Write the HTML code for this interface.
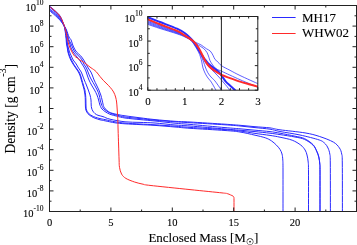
<!DOCTYPE html>
<html><head><meta charset="utf-8"><style>
html,body{margin:0;padding:0;background:#fff;width:357px;height:245px;overflow:hidden}
svg{display:block;font-family:"Liberation Serif",serif;will-change:transform}
text{fill:#000;stroke:#000;stroke-width:0.1px}
</style></head><body>
<svg width="357" height="245" viewBox="0 0 357 245" xmlns="http://www.w3.org/2000/svg">
<defs>
<clipPath id="cm"><rect x="49.5" y="5.5" width="307" height="206"/></clipPath>
<clipPath id="ci"><rect x="147.8" y="16.5" width="110" height="73.7"/></clipPath>
</defs>
<rect width="357" height="245" fill="#fff"/>

<g clip-path="url(#cm)">
<path d="M49.50 9.60 C50.47 10.43 53.52 12.93 55.30 14.60 C57.08 16.27 58.75 17.75 60.20 19.60 C61.65 21.45 63.20 23.97 64.00 25.70 C64.80 27.43 64.68 28.12 65.00 30.00 C65.32 31.88 65.70 35.33 65.90 37.00 C66.10 38.67 66.10 38.83 66.20 40.00 C66.30 41.17 66.32 42.67 66.50 44.00 C66.68 45.33 67.07 46.67 67.30 48.00 C67.53 49.33 67.60 50.67 67.90 52.00 C68.20 53.33 68.63 54.67 69.10 56.00 C69.57 57.33 70.05 58.67 70.70 60.00 C71.35 61.33 72.17 62.67 73.00 64.00 C73.83 65.33 74.80 66.67 75.70 68.00 C76.60 69.33 77.65 70.67 78.40 72.00 C79.15 73.33 79.72 74.67 80.20 76.00 C80.68 77.33 80.87 78.50 81.30 80.00 C81.73 81.50 82.32 83.33 82.80 85.00 C83.28 86.67 83.83 88.33 84.20 90.00 C84.57 91.67 84.82 93.33 85.00 95.00 C85.18 96.67 85.23 98.17 85.30 100.00 C85.37 101.83 85.30 104.33 85.40 106.00 C85.50 107.67 85.47 108.70 85.90 110.00 C86.33 111.30 87.07 112.72 88.00 113.80 C88.93 114.88 90.33 115.77 91.50 116.50 C92.67 117.23 93.58 117.65 95.00 118.20 C96.42 118.75 98.33 119.37 100.00 119.80 C101.67 120.23 102.50 120.30 105.00 120.80 C107.50 121.30 111.67 122.30 115.00 122.80 C118.33 123.30 120.83 123.50 125.00 123.80 C129.17 124.10 135.00 124.33 140.00 124.60 C145.00 124.87 149.17 125.00 155.00 125.40 C160.83 125.80 169.17 126.52 175.00 127.00 C180.83 127.48 181.67 127.72 190.00 128.30 C198.33 128.88 216.67 129.88 225.00 130.50 C233.33 131.12 235.00 131.22 240.00 132.00 C245.00 132.78 250.78 134.23 255.00 135.20 C259.22 136.17 262.55 136.85 265.30 137.80 C268.05 138.75 269.65 139.68 271.50 140.90 C273.35 142.12 274.98 143.68 276.40 145.10 C277.82 146.52 279.07 147.92 280.00 149.40 C280.93 150.88 281.53 152.23 282.00 154.00 C282.47 155.77 282.63 157.33 282.80 160.00 C282.97 162.67 282.97 161.33 283.00 170.00 C283.03 178.67 283.00 205.00 283.00 212.00" fill="none" stroke="#2a2aff" stroke-width="1.00" stroke-linejoin="round" stroke-linecap="round"/>
<path d="M49.50 10.60 C50.47 11.43 53.52 13.97 55.30 15.60 C57.08 17.23 58.75 18.70 60.20 20.40 C61.65 22.10 63.17 24.20 64.00 25.80 C64.83 27.40 64.83 28.13 65.20 30.00 C65.57 31.87 65.97 35.33 66.20 37.00 C66.43 38.67 66.48 38.83 66.60 40.00 C66.72 41.17 66.70 42.67 66.90 44.00 C67.10 45.33 67.55 46.67 67.80 48.00 C68.05 49.33 68.08 50.67 68.40 52.00 C68.72 53.33 69.18 54.67 69.70 56.00 C70.22 57.33 70.85 58.67 71.50 60.00 C72.15 61.33 72.80 62.67 73.60 64.00 C74.40 65.33 75.38 66.67 76.30 68.00 C77.22 69.33 78.35 70.67 79.10 72.00 C79.85 73.33 80.33 74.67 80.80 76.00 C81.27 77.33 81.47 78.50 81.90 80.00 C82.33 81.50 82.90 83.33 83.40 85.00 C83.90 86.67 84.53 88.33 84.90 90.00 C85.27 91.67 85.43 93.33 85.60 95.00 C85.77 96.67 85.83 98.17 85.90 100.00 C85.97 101.83 85.90 104.33 86.00 106.00 C86.10 107.67 86.07 108.77 86.50 110.00 C86.93 111.23 87.68 112.43 88.60 113.40 C89.52 114.37 90.85 115.15 92.00 115.80 C93.15 116.45 94.17 116.83 95.50 117.30 C96.83 117.77 98.42 118.22 100.00 118.60 C101.58 118.98 102.50 119.07 105.00 119.60 C107.50 120.13 111.67 121.22 115.00 121.80 C118.33 122.38 120.83 122.73 125.00 123.10 C129.17 123.47 135.00 123.72 140.00 124.00 C145.00 124.28 149.17 124.43 155.00 124.80 C160.83 125.17 169.17 125.77 175.00 126.20 C180.83 126.63 181.67 126.83 190.00 127.40 C198.33 127.97 216.67 129.00 225.00 129.60 C233.33 130.20 235.00 130.37 240.00 131.00 C245.00 131.63 250.00 132.67 255.00 133.40 C260.00 134.13 265.83 134.77 270.00 135.40 C274.17 136.03 276.30 136.40 280.00 137.20 C283.70 138.00 288.73 138.88 292.20 140.20 C295.67 141.52 298.65 143.47 300.80 145.10 C302.95 146.73 304.07 148.35 305.10 150.00 C306.13 151.65 306.48 153.00 307.00 155.00 C307.52 157.00 307.95 159.17 308.20 162.00 C308.45 164.83 308.45 163.67 308.50 172.00 C308.55 180.33 308.50 205.33 308.50 212.00" fill="none" stroke="#2a2aff" stroke-width="1.00" stroke-linejoin="round" stroke-linecap="round"/>
<path d="M49.50 8.60 C50.47 9.43 53.52 11.93 55.30 13.60 C57.08 15.27 58.75 16.62 60.20 18.60 C61.65 20.58 63.13 23.60 64.00 25.50 C64.87 27.40 64.95 28.08 65.40 30.00 C65.85 31.92 66.42 35.33 66.70 37.00 C66.98 38.67 66.97 38.83 67.10 40.00 C67.23 41.17 67.28 42.67 67.50 44.00 C67.72 45.33 68.07 46.67 68.40 48.00 C68.73 49.33 69.02 50.67 69.50 52.00 C69.98 53.33 70.68 54.67 71.30 56.00 C71.92 57.33 72.38 58.67 73.20 60.00 C74.02 61.33 75.32 62.67 76.20 64.00 C77.08 65.33 77.67 66.67 78.50 68.00 C79.33 69.33 80.48 70.67 81.20 72.00 C81.92 73.33 82.28 74.67 82.80 76.00 C83.32 77.33 83.70 78.50 84.30 80.00 C84.90 81.50 85.73 83.33 86.40 85.00 C87.07 86.67 87.70 88.33 88.30 90.00 C88.90 91.67 89.55 93.33 90.00 95.00 C90.45 96.67 90.80 98.33 91.00 100.00 C91.20 101.67 91.10 103.67 91.20 105.00 C91.30 106.33 91.33 107.00 91.60 108.00 C91.87 109.00 92.23 110.07 92.80 111.00 C93.37 111.93 94.13 112.88 95.00 113.60 C95.87 114.32 96.67 114.80 98.00 115.30 C99.33 115.80 101.00 115.95 103.00 116.60 C105.00 117.25 106.33 118.33 110.00 119.20 C113.67 120.07 120.00 121.27 125.00 121.80 C130.00 122.33 135.00 122.20 140.00 122.40 C145.00 122.60 149.17 122.57 155.00 123.00 C160.83 123.43 169.17 124.50 175.00 125.00 C180.83 125.50 181.67 125.33 190.00 126.00 C198.33 126.67 216.67 128.30 225.00 129.00 C233.33 129.70 235.00 129.77 240.00 130.20 C245.00 130.63 250.00 131.10 255.00 131.60 C260.00 132.10 265.83 132.70 270.00 133.20 C274.17 133.70 275.83 133.97 280.00 134.60 C284.17 135.23 290.92 136.20 295.00 137.00 C299.08 137.80 301.50 138.05 304.50 139.40 C307.50 140.75 310.97 143.12 313.00 145.10 C315.03 147.08 315.73 149.32 316.70 151.30 C317.67 153.28 318.28 154.88 318.80 157.00 C319.32 159.12 319.60 161.50 319.80 164.00 C320.00 166.50 319.97 164.00 320.00 172.00 C320.03 180.00 320.00 205.33 320.00 212.00" fill="none" stroke="#2a2aff" stroke-width="1.00" stroke-linejoin="round" stroke-linecap="round"/>
<path d="M49.50 6.00 C50.47 6.83 53.52 9.30 55.30 11.00 C57.08 12.70 58.75 13.83 60.20 16.20 C61.65 18.57 63.07 22.90 64.00 25.20 C64.93 27.50 65.22 28.03 65.80 30.00 C66.38 31.97 67.08 35.33 67.50 37.00 C67.92 38.67 67.90 38.83 68.30 40.00 C68.70 41.17 69.43 42.67 69.90 44.00 C70.37 45.33 70.55 46.67 71.10 48.00 C71.65 49.33 72.35 50.67 73.20 52.00 C74.05 53.33 75.15 54.67 76.20 56.00 C77.25 57.33 78.53 58.67 79.50 60.00 C80.47 61.33 81.17 62.67 82.00 64.00 C82.83 65.33 83.80 66.67 84.50 68.00 C85.20 69.33 85.70 70.67 86.20 72.00 C86.70 73.33 87.03 74.67 87.50 76.00 C87.97 77.33 88.33 78.50 89.00 80.00 C89.67 81.50 90.58 83.33 91.50 85.00 C92.42 86.67 93.58 88.33 94.50 90.00 C95.42 91.67 96.32 93.33 97.00 95.00 C97.68 96.67 98.17 98.50 98.60 100.00 C99.03 101.50 99.28 102.92 99.60 104.00 C99.92 105.08 100.10 105.67 100.50 106.50 C100.90 107.33 101.25 108.17 102.00 109.00 C102.75 109.83 103.67 110.62 105.00 111.50 C106.33 112.38 108.00 113.52 110.00 114.30 C112.00 115.08 114.50 115.58 117.00 116.20 C119.50 116.82 121.17 117.43 125.00 118.00 C128.83 118.57 135.00 119.10 140.00 119.60 C145.00 120.10 149.17 120.40 155.00 121.00 C160.83 121.60 169.17 122.63 175.00 123.20 C180.83 123.77 181.67 123.67 190.00 124.40 C198.33 125.13 216.67 126.87 225.00 127.60 C233.33 128.33 235.00 128.37 240.00 128.80 C245.00 129.23 250.00 129.73 255.00 130.20 C260.00 130.67 265.83 131.10 270.00 131.60 C274.17 132.10 275.83 132.43 280.00 133.20 C284.17 133.97 290.92 135.30 295.00 136.20 C299.08 137.10 301.50 137.20 304.50 138.60 C307.50 140.00 310.97 142.53 313.00 144.60 C315.03 146.67 315.73 148.93 316.70 151.00 C317.67 153.07 318.28 154.83 318.80 157.00 C319.32 159.17 319.60 161.50 319.80 164.00 C320.00 166.50 319.97 164.00 320.00 172.00 C320.03 180.00 320.00 205.33 320.00 212.00" fill="none" stroke="#2a2aff" stroke-width="1.00" stroke-linejoin="round" stroke-linecap="round"/>
<path d="M49.50 7.00 C50.47 7.83 53.52 10.30 55.30 12.00 C57.08 13.70 58.75 14.97 60.20 17.20 C61.65 19.43 63.02 23.27 64.00 25.40 C64.98 27.53 65.42 28.07 66.10 30.00 C66.78 31.93 67.62 35.33 68.10 37.00 C68.58 38.67 68.50 38.83 69.00 40.00 C69.50 41.17 70.47 42.67 71.10 44.00 C71.73 45.33 72.17 46.67 72.80 48.00 C73.43 49.33 73.92 50.67 74.90 52.00 C75.88 53.33 77.50 54.67 78.70 56.00 C79.90 57.33 81.25 58.67 82.10 60.00 C82.95 61.33 83.08 62.67 83.80 64.00 C84.52 65.33 85.70 66.67 86.40 68.00 C87.10 69.33 87.47 70.67 88.00 72.00 C88.53 73.33 89.00 74.67 89.60 76.00 C90.20 77.33 90.78 78.50 91.60 80.00 C92.42 81.50 93.57 83.33 94.50 85.00 C95.43 86.67 96.42 88.33 97.20 90.00 C97.98 91.67 98.70 93.33 99.20 95.00 C99.70 96.67 99.85 98.50 100.20 100.00 C100.55 101.50 100.95 102.92 101.30 104.00 C101.65 105.08 101.85 105.67 102.30 106.50 C102.75 107.33 103.22 108.22 104.00 109.00 C104.78 109.78 105.67 110.40 107.00 111.20 C108.33 112.00 110.17 113.10 112.00 113.80 C113.83 114.50 115.83 114.87 118.00 115.40 C120.17 115.93 121.33 116.47 125.00 117.00 C128.67 117.53 135.00 118.07 140.00 118.60 C145.00 119.13 149.17 119.67 155.00 120.20 C160.83 120.73 169.17 121.38 175.00 121.80 C180.83 122.22 181.67 122.20 190.00 122.70 C198.33 123.20 216.67 124.25 225.00 124.80 C233.33 125.35 235.00 125.53 240.00 126.00 C245.00 126.47 250.00 127.07 255.00 127.60 C260.00 128.13 265.83 128.55 270.00 129.20 C274.17 129.85 275.00 130.53 280.00 131.50 C285.00 132.47 293.45 133.58 300.00 135.00 C306.55 136.42 315.13 138.57 319.30 140.00 C323.47 141.43 323.55 142.27 325.00 143.60 C326.45 144.93 327.20 146.27 328.00 148.00 C328.80 149.73 329.42 151.50 329.80 154.00 C330.18 156.50 330.20 153.33 330.30 163.00 C330.40 172.67 330.38 203.83 330.40 212.00" fill="none" stroke="#2a2aff" stroke-width="1.00" stroke-linejoin="round" stroke-linecap="round"/>
<path d="M49.50 6.50 C50.47 7.33 53.52 9.78 55.30 11.50 C57.08 13.22 58.75 14.50 60.20 16.80 C61.65 19.10 62.95 23.10 64.00 25.30 C65.05 27.50 65.67 28.05 66.50 30.00 C67.33 31.95 68.23 35.33 69.00 37.00 C69.77 38.67 70.53 38.83 71.10 40.00 C71.67 41.17 71.90 42.67 72.40 44.00 C72.90 45.33 73.40 46.67 74.10 48.00 C74.80 49.33 75.48 50.67 76.60 52.00 C77.72 53.33 79.62 54.67 80.80 56.00 C81.98 57.33 82.83 58.67 83.70 60.00 C84.57 61.33 85.25 62.67 86.00 64.00 C86.75 65.33 87.38 66.67 88.20 68.00 C89.02 69.33 90.17 70.67 90.90 72.00 C91.63 73.33 92.07 74.67 92.60 76.00 C93.13 77.33 93.45 78.50 94.10 80.00 C94.75 81.50 95.70 83.33 96.50 85.00 C97.30 86.67 98.18 88.33 98.90 90.00 C99.62 91.67 100.27 93.33 100.80 95.00 C101.33 96.67 101.73 98.50 102.10 100.00 C102.47 101.50 102.73 102.92 103.00 104.00 C103.27 105.08 103.28 105.67 103.70 106.50 C104.12 107.33 104.70 108.12 105.50 109.00 C106.30 109.88 107.25 111.05 108.50 111.80 C109.75 112.55 111.25 113.00 113.00 113.50 C114.75 114.00 117.00 114.42 119.00 114.80 C121.00 115.18 121.50 115.30 125.00 115.80 C128.50 116.30 135.00 117.17 140.00 117.80 C145.00 118.43 149.17 119.02 155.00 119.60 C160.83 120.18 169.17 120.90 175.00 121.30 C180.83 121.70 181.67 121.52 190.00 122.00 C198.33 122.48 216.67 123.65 225.00 124.20 C233.33 124.75 235.00 124.88 240.00 125.30 C245.00 125.72 250.00 126.27 255.00 126.70 C260.00 127.13 265.83 127.38 270.00 127.90 C274.17 128.42 274.17 128.97 280.00 129.80 C285.83 130.63 298.45 131.80 305.00 132.90 C311.55 134.00 314.57 134.87 319.30 136.40 C324.03 137.93 330.05 140.18 333.40 142.10 C336.75 144.02 338.02 145.92 339.40 147.90 C340.78 149.88 341.22 151.48 341.70 154.00 C342.18 156.52 342.18 153.33 342.30 163.00 C342.42 172.67 342.38 203.83 342.40 212.00" fill="none" stroke="#2a2aff" stroke-width="1.00" stroke-linejoin="round" stroke-linecap="round"/>
<path d="M49.50 6.70 C50.47 7.45 53.52 9.55 55.30 11.20 C57.08 12.85 58.75 14.30 60.20 16.60 C61.65 18.90 63.12 22.77 64.00 25.00 C64.88 27.23 65.07 28.33 65.50 30.00 C65.93 31.67 66.22 33.33 66.60 35.00 C66.98 36.67 67.47 38.50 67.80 40.00 C68.13 41.50 68.23 42.67 68.60 44.00 C68.97 45.33 69.43 46.67 70.00 48.00 C70.57 49.33 71.25 50.67 72.00 52.00 C72.75 53.33 73.62 55.00 74.50 56.00 C75.38 57.00 76.42 57.33 77.30 58.00 C78.18 58.67 78.98 59.45 79.80 60.00 C80.62 60.55 81.08 60.58 82.20 61.30 C83.32 62.02 85.03 63.22 86.50 64.30 C87.97 65.38 89.82 66.93 91.00 67.80 C92.18 68.67 92.70 68.82 93.60 69.50 C94.50 70.18 95.33 70.73 96.40 71.90 C97.47 73.07 98.85 75.08 100.00 76.50 C101.15 77.92 102.13 79.15 103.30 80.40 C104.47 81.65 105.82 82.80 107.00 84.00 C108.18 85.20 109.30 86.27 110.40 87.60 C111.50 88.93 112.73 90.43 113.60 92.00 C114.47 93.57 115.10 95.33 115.60 97.00 C116.10 98.67 116.35 100.17 116.60 102.00 C116.85 103.83 116.95 106.00 117.10 108.00 C117.25 110.00 117.38 112.00 117.50 114.00 C117.62 116.00 117.70 117.33 117.80 120.00 C117.90 122.67 117.97 125.83 118.10 130.00 C118.23 134.17 118.43 140.00 118.60 145.00 C118.77 150.00 118.95 156.28 119.10 160.00 C119.25 163.72 119.08 164.95 119.50 167.30 C119.92 169.65 120.53 172.25 121.60 174.10 C122.67 175.95 123.75 177.08 125.90 178.40 C128.05 179.72 131.65 181.03 134.50 182.00 C137.35 182.97 140.42 183.63 143.00 184.20 C145.58 184.77 142.17 184.50 150.00 185.40 C157.83 186.30 178.00 188.35 190.00 189.60 C202.00 190.85 215.80 192.23 222.00 192.90 C228.20 193.57 225.78 193.27 227.20 193.60 C228.62 193.93 229.53 194.48 230.50 194.90 C231.47 195.32 232.43 195.68 233.00 196.10 C233.57 196.52 233.73 196.75 233.90 197.40 C234.07 198.05 233.98 197.57 234.00 200.00 C234.02 202.43 234.00 210.00 234.00 212.00" fill="none" stroke="#ff2a2a" stroke-width="1.00" stroke-linejoin="round" stroke-linecap="round"/>
</g>
<rect x="49.5" y="5.5" width="307" height="206" fill="none" stroke="#222" stroke-width="1"/>
<path d="M49.50 211.5V207.50M49.50 5.5V9.50" stroke="#222" stroke-width="1"/>
<path d="M80.20 211.5V209.50M80.20 5.5V7.50" stroke="#222" stroke-width="1"/>
<path d="M110.90 211.5V207.50M110.90 5.5V9.50" stroke="#222" stroke-width="1"/>
<path d="M141.60 211.5V209.50M141.60 5.5V7.50" stroke="#222" stroke-width="1"/>
<path d="M172.30 211.5V207.50M172.30 5.5V9.50" stroke="#222" stroke-width="1"/>
<path d="M203.00 211.5V209.50M203.00 5.5V7.50" stroke="#222" stroke-width="1"/>
<path d="M233.70 211.5V207.50M233.70 5.5V9.50" stroke="#222" stroke-width="1"/>
<path d="M264.40 211.5V209.50M264.40 5.5V7.50" stroke="#222" stroke-width="1"/>
<path d="M295.10 211.5V207.50M295.10 5.5V9.50" stroke="#222" stroke-width="1"/>
<path d="M325.80 211.5V209.50M325.80 5.5V7.50" stroke="#222" stroke-width="1"/>
<path d="M356.50 211.5V207.50M356.50 5.5V9.50" stroke="#222" stroke-width="1"/>
<path d="M49.5 211.50H53.50M356.5 211.50H352.50" stroke="#222" stroke-width="1"/>
<path d="M49.5 201.20H51.50M356.5 201.20H354.50" stroke="#222" stroke-width="1"/>
<path d="M49.5 190.90H53.50M356.5 190.90H352.50" stroke="#222" stroke-width="1"/>
<path d="M49.5 180.60H51.50M356.5 180.60H354.50" stroke="#222" stroke-width="1"/>
<path d="M49.5 170.30H53.50M356.5 170.30H352.50" stroke="#222" stroke-width="1"/>
<path d="M49.5 160.00H51.50M356.5 160.00H354.50" stroke="#222" stroke-width="1"/>
<path d="M49.5 149.70H53.50M356.5 149.70H352.50" stroke="#222" stroke-width="1"/>
<path d="M49.5 139.40H51.50M356.5 139.40H354.50" stroke="#222" stroke-width="1"/>
<path d="M49.5 129.10H53.50M356.5 129.10H352.50" stroke="#222" stroke-width="1"/>
<path d="M49.5 118.80H51.50M356.5 118.80H354.50" stroke="#222" stroke-width="1"/>
<path d="M49.5 108.50H53.50M356.5 108.50H352.50" stroke="#222" stroke-width="1"/>
<path d="M49.5 98.20H51.50M356.5 98.20H354.50" stroke="#222" stroke-width="1"/>
<path d="M49.5 87.90H53.50M356.5 87.90H352.50" stroke="#222" stroke-width="1"/>
<path d="M49.5 77.60H51.50M356.5 77.60H354.50" stroke="#222" stroke-width="1"/>
<path d="M49.5 67.30H53.50M356.5 67.30H352.50" stroke="#222" stroke-width="1"/>
<path d="M49.5 57.00H51.50M356.5 57.00H354.50" stroke="#222" stroke-width="1"/>
<path d="M49.5 46.70H53.50M356.5 46.70H352.50" stroke="#222" stroke-width="1"/>
<path d="M49.5 36.40H51.50M356.5 36.40H354.50" stroke="#222" stroke-width="1"/>
<path d="M49.5 26.10H53.50M356.5 26.10H352.50" stroke="#222" stroke-width="1"/>
<path d="M49.5 15.80H51.50M356.5 15.80H354.50" stroke="#222" stroke-width="1"/>
<path d="M49.5 5.50H53.50M356.5 5.50H352.50" stroke="#222" stroke-width="1"/>
<rect x="147.8" y="16.5" width="110" height="73.7" fill="#fff"/>
<g clip-path="url(#ci)">
<path d="M147.80 24.40 C149.83 25.08 155.13 26.93 160.00 28.50 C164.87 30.07 172.83 32.38 177.00 33.80 C181.17 35.22 182.67 35.88 185.00 37.00 C187.33 38.12 189.33 39.00 191.00 40.50 C192.67 42.00 193.75 44.08 195.00 46.00 C196.25 47.92 197.58 50.17 198.50 52.00 C199.42 53.83 199.95 55.33 200.50 57.00 C201.05 58.67 201.38 60.17 201.80 62.00 C202.22 63.83 202.40 66.03 203.00 68.00 C203.60 69.97 204.57 72.13 205.40 73.80 C206.23 75.47 207.02 76.62 208.00 78.00 C208.98 79.38 210.07 80.23 211.30 82.10 C212.53 83.97 214.53 87.72 215.40 89.20 C216.27 90.68 216.32 90.70 216.50 91.00" fill="none" stroke="#2a2aff" stroke-width="0.75" stroke-linejoin="round" stroke-linecap="round"/>
<path d="M147.80 23.40 C149.83 24.12 155.13 26.07 160.00 27.70 C164.87 29.33 172.83 31.72 177.00 33.20 C181.17 34.68 182.63 35.42 185.00 36.60 C187.37 37.78 189.45 38.73 191.20 40.30 C192.95 41.87 194.17 44.05 195.50 46.00 C196.83 47.95 198.17 50.17 199.20 52.00 C200.23 53.83 200.97 55.33 201.70 57.00 C202.43 58.67 203.00 60.33 203.60 62.00 C204.20 63.67 204.60 65.22 205.30 67.00 C206.00 68.78 206.85 71.03 207.80 72.70 C208.75 74.37 209.82 75.63 211.00 77.00 C212.18 78.37 213.27 78.87 214.90 80.90 C216.53 82.93 219.62 87.52 220.80 89.20 C221.98 90.88 221.80 90.70 222.00 91.00" fill="none" stroke="#2a2aff" stroke-width="0.75" stroke-linejoin="round" stroke-linecap="round"/>
<path d="M147.80 22.40 C149.83 23.15 155.13 25.20 160.00 26.90 C164.87 28.60 172.83 31.03 177.00 32.60 C181.17 34.17 182.58 35.03 185.00 36.30 C187.42 37.57 189.67 38.58 191.50 40.20 C193.33 41.82 194.62 44.03 196.00 46.00 C197.38 47.97 198.72 50.17 199.80 52.00 C200.88 53.83 201.72 55.50 202.50 57.00 C203.28 58.50 203.75 59.75 204.50 61.00 C205.25 62.25 205.75 63.00 207.00 64.50 C208.25 66.00 210.50 68.42 212.00 70.00 C213.50 71.58 214.72 72.68 216.00 74.00 C217.28 75.32 218.37 76.40 219.70 77.90 C221.03 79.40 222.78 81.57 224.00 83.00 C225.22 84.43 226.08 85.33 227.00 86.50 C227.92 87.67 228.92 89.17 229.50 90.00 C230.08 90.83 230.33 91.25 230.50 91.50" fill="none" stroke="#2a2aff" stroke-width="0.75" stroke-linejoin="round" stroke-linecap="round"/>
<path d="M147.80 20.50 C149.83 21.28 155.13 23.37 160.00 25.20 C164.87 27.03 172.83 29.77 177.00 31.50 C181.17 33.23 182.50 34.10 185.00 35.60 C187.50 37.10 190.48 39.43 192.00 40.50 C193.52 41.57 193.08 41.25 194.10 42.00 C195.12 42.75 196.57 43.97 198.10 45.00 C199.63 46.03 201.82 46.95 203.30 48.20 C204.78 49.45 206.07 50.98 207.00 52.50 C207.93 54.02 208.42 55.98 208.90 57.30 C209.38 58.62 209.38 59.28 209.90 60.40 C210.42 61.52 210.98 62.62 212.00 64.00 C213.02 65.38 214.42 67.50 216.00 68.70 C217.58 69.90 217.50 69.37 221.50 71.20 C225.50 73.03 233.75 76.97 240.00 79.70 C246.25 82.43 255.83 86.28 259.00 87.60" fill="none" stroke="#2a2aff" stroke-width="0.75" stroke-linejoin="round" stroke-linecap="round"/>
<path d="M147.80 21.50 C149.83 22.25 155.13 24.25 160.00 26.00 C164.87 27.75 172.83 30.33 177.00 32.00 C181.17 33.67 182.42 34.58 185.00 36.00 C187.58 37.42 190.65 39.40 192.50 40.50 C194.35 41.60 194.65 41.85 196.10 42.60 C197.55 43.35 199.50 43.98 201.20 45.00 C202.90 46.02 204.78 47.68 206.30 48.70 C207.82 49.72 209.18 50.00 210.30 51.10 C211.42 52.20 212.22 53.92 213.00 55.30 C213.78 56.68 214.23 58.35 215.00 59.40 C215.77 60.45 216.52 60.55 217.60 61.60 C218.68 62.65 219.43 64.25 221.50 65.70 C223.57 67.15 226.92 68.67 230.00 70.30 C233.08 71.93 235.17 73.18 240.00 75.50 C244.83 77.82 255.83 82.75 259.00 84.20" fill="none" stroke="#2a2aff" stroke-width="0.75" stroke-linejoin="round" stroke-linecap="round"/>
<path d="M147.80 17.20 C149.83 18.00 155.13 20.08 160.00 22.00 C164.87 23.92 172.83 26.82 177.00 28.70 C181.17 30.58 182.55 31.52 185.00 33.30 C187.45 35.08 189.90 37.48 191.70 39.40 C193.50 41.32 194.62 43.03 195.80 44.80 C196.98 46.57 197.85 48.38 198.80 50.00 C199.75 51.62 200.47 52.92 201.50 54.50 C202.53 56.08 203.83 57.95 205.00 59.50 C206.17 61.05 207.28 62.57 208.50 63.80 C209.72 65.03 210.63 65.57 212.30 66.90 C213.97 68.23 216.97 70.37 218.50 71.80 C220.03 73.23 220.28 73.87 221.50 75.50 C222.72 77.13 224.38 79.93 225.80 81.60 C227.22 83.27 228.57 84.18 230.00 85.50 C231.43 86.82 233.48 88.58 234.40 89.50 C235.32 90.42 235.32 90.75 235.50 91.00" fill="none" stroke="#2a2aff" stroke-width="2.00" stroke-linejoin="round" stroke-linecap="round"/>
<path d="M147.80 19.40 C149.83 20.22 155.13 22.38 160.00 24.30 C164.87 26.22 172.83 29.02 177.00 30.90 C181.17 32.78 182.32 33.92 185.00 35.60 C187.68 37.28 190.87 39.02 193.10 41.00 C195.33 42.98 196.87 45.17 198.40 47.50 C199.93 49.83 201.20 52.83 202.30 55.00 C203.40 57.17 204.05 58.83 205.00 60.50 C205.95 62.17 206.98 63.73 208.00 65.00 C209.02 66.27 209.57 66.87 211.10 68.10 C212.63 69.33 215.47 71.27 217.20 72.40 C218.93 73.53 219.45 73.98 221.50 74.90 C223.55 75.82 226.42 76.78 229.50 77.90 C232.58 79.02 236.58 80.50 240.00 81.60 C243.42 82.70 246.83 83.60 250.00 84.50 C253.17 85.40 257.50 86.58 259.00 87.00" fill="none" stroke="#ff2a2a" stroke-width="2.00" stroke-linejoin="round" stroke-linecap="round"/>
<path d="M221.4 16.5V90.2" stroke="#222" stroke-width="1"/>
</g>
<rect x="147.8" y="16.5" width="110" height="73.7" fill="none" stroke="#222" stroke-width="1"/>
<path d="M147.80 90.2V87.20M147.80 16.5V19.50" stroke="#222" stroke-width="1"/>
<path d="M156.97 90.2V88.20M156.97 16.5V18.50" stroke="#222" stroke-width="1"/>
<path d="M166.13 90.2V88.20M166.13 16.5V18.50" stroke="#222" stroke-width="1"/>
<path d="M175.30 90.2V88.20M175.30 16.5V18.50" stroke="#222" stroke-width="1"/>
<path d="M184.47 90.2V87.20M184.47 16.5V19.50" stroke="#222" stroke-width="1"/>
<path d="M193.63 90.2V88.20M193.63 16.5V18.50" stroke="#222" stroke-width="1"/>
<path d="M202.80 90.2V88.20M202.80 16.5V18.50" stroke="#222" stroke-width="1"/>
<path d="M211.97 90.2V88.20M211.97 16.5V18.50" stroke="#222" stroke-width="1"/>
<path d="M221.13 90.2V87.20M221.13 16.5V19.50" stroke="#222" stroke-width="1"/>
<path d="M230.30 90.2V88.20M230.30 16.5V18.50" stroke="#222" stroke-width="1"/>
<path d="M239.47 90.2V88.20M239.47 16.5V18.50" stroke="#222" stroke-width="1"/>
<path d="M248.63 90.2V88.20M248.63 16.5V18.50" stroke="#222" stroke-width="1"/>
<path d="M257.80 90.2V87.20M257.80 16.5V19.50" stroke="#222" stroke-width="1"/>
<path d="M147.8 90.20H150.80M257.8 90.20H254.80" stroke="#222" stroke-width="1"/>
<path d="M147.8 77.92H149.80M257.8 77.92H255.80" stroke="#222" stroke-width="1"/>
<path d="M147.8 65.63H150.80M257.8 65.63H254.80" stroke="#222" stroke-width="1"/>
<path d="M147.8 53.35H149.80M257.8 53.35H255.80" stroke="#222" stroke-width="1"/>
<path d="M147.8 41.07H150.80M257.8 41.07H254.80" stroke="#222" stroke-width="1"/>
<path d="M147.8 28.78H149.80M257.8 28.78H255.80" stroke="#222" stroke-width="1"/>
<path d="M147.8 16.50H150.80M257.8 16.50H254.80" stroke="#222" stroke-width="1"/>
<text x="43.50" y="217.30" font-size="10.5" text-anchor="end">10<tspan font-size="7.5" dy="-6">-10</tspan></text>
<text x="43.50" y="196.70" font-size="10.5" text-anchor="end">10<tspan font-size="7.5" dy="-6">-8</tspan></text>
<text x="43.50" y="176.10" font-size="10.5" text-anchor="end">10<tspan font-size="7.5" dy="-6">-6</tspan></text>
<text x="43.50" y="155.50" font-size="10.5" text-anchor="end">10<tspan font-size="7.5" dy="-6">-4</tspan></text>
<text x="43.50" y="134.90" font-size="10.5" text-anchor="end">10<tspan font-size="7.5" dy="-6">-2</tspan></text>
<text x="43.00" y="113.10" font-size="10.5" text-anchor="end">1</text>
<text x="43.50" y="93.70" font-size="10.5" text-anchor="end">10<tspan font-size="7.5" dy="-6">2</tspan></text>
<text x="43.50" y="73.10" font-size="10.5" text-anchor="end">10<tspan font-size="7.5" dy="-6">4</tspan></text>
<text x="43.50" y="52.50" font-size="10.5" text-anchor="end">10<tspan font-size="7.5" dy="-6">6</tspan></text>
<text x="43.50" y="31.90" font-size="10.5" text-anchor="end">10<tspan font-size="7.5" dy="-6">8</tspan></text>
<text x="43.50" y="11.30" font-size="10.5" text-anchor="end">10<tspan font-size="7.5" dy="-6">10</tspan></text>
<text x="49.50" y="225.5" font-size="10.5" text-anchor="middle">0</text>
<text x="110.90" y="225.5" font-size="10.5" text-anchor="middle">5</text>
<text x="172.30" y="225.5" font-size="10.5" text-anchor="middle">10</text>
<text x="233.70" y="225.5" font-size="10.5" text-anchor="middle">15</text>
<text x="295.10" y="225.5" font-size="10.5" text-anchor="middle">20</text>
<text x="142.50" y="96.00" font-size="10.5" text-anchor="end">10<tspan font-size="7.5" dy="-6">4</tspan></text>
<text x="142.50" y="71.43" font-size="10.5" text-anchor="end">10<tspan font-size="7.5" dy="-6">6</tspan></text>
<text x="142.50" y="46.87" font-size="10.5" text-anchor="end">10<tspan font-size="7.5" dy="-6">8</tspan></text>
<text x="142.50" y="22.30" font-size="10.5" text-anchor="end">10<tspan font-size="7.5" dy="-6">10</tspan></text>
<text x="148.10" y="104.8" font-size="11" text-anchor="middle">0</text>
<text x="184.77" y="104.8" font-size="11" text-anchor="middle">1</text>
<text x="221.43" y="104.8" font-size="11" text-anchor="middle">2</text>
<text x="258.10" y="104.8" font-size="11" text-anchor="middle">3</text>
<text x="148.4" y="241.6" font-size="13">Enclosed Mass [M<tspan font-size="9" dy="3">&#9737;</tspan><tspan dy="-3">]</tspan></text>
<text transform="translate(14.8 153.5) rotate(-90)" font-size="13.6">Density [g cm<tspan font-size="9.5" dy="-8.5">-3</tspan><tspan dy="8.5">]</tspan></text>
<path d="M272 17.5H295.6" stroke="#2a2aff" stroke-width="1"/>
<path d="M272 33.5H295.6" stroke="#ff2a2a" stroke-width="1"/>
<text x="302" y="22" font-size="13">MH17</text>
<text x="302" y="37" font-size="13">WHW02</text>
</svg></body></html>
